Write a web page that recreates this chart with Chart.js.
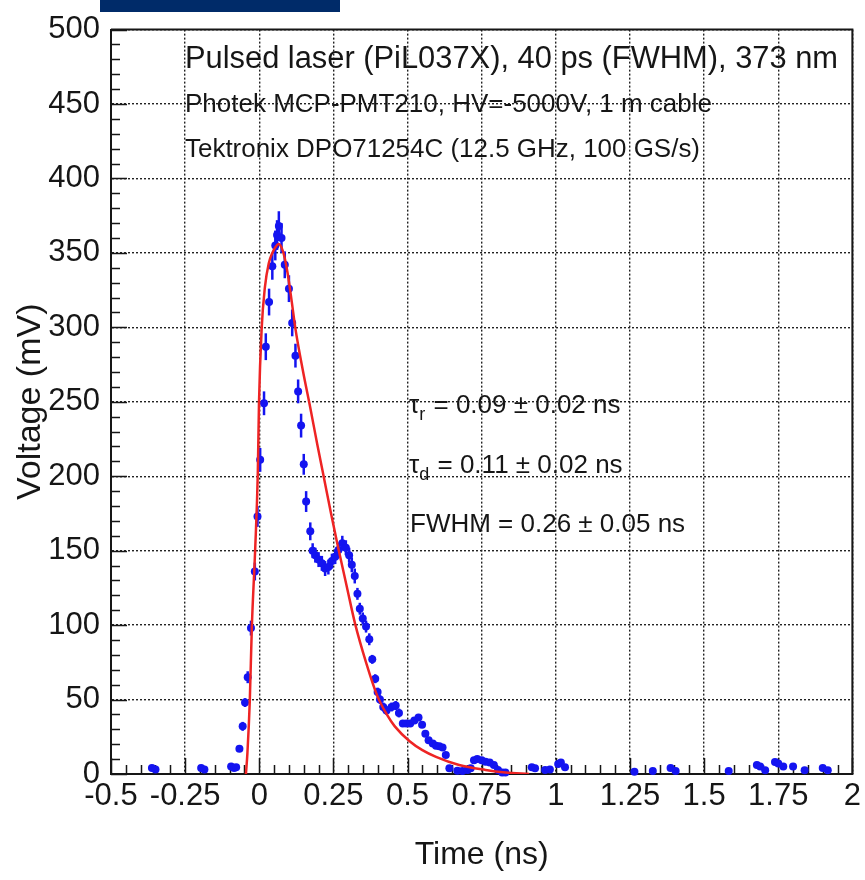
<!DOCTYPE html>
<html>
<head>
<meta charset="utf-8">
<title>MCP-PMT pulse</title>
<script src="https://cdn.jsdelivr.net/npm/chart.js@4.4.1/dist/chart.umd.min.js"></script>
<style>
  html, body { margin: 0; padding: 0; background: #fff; }
  #wrap { position: relative; width: 865px; height: 880px; }
</style>
</head>
<body>
<div id="wrap"><canvas id="pulse"></canvas></div>
<script>
// measured waveform (ns, mV) with per-sample uncertainty
const timeNs = [
  -0.362, -0.350, -0.196, -0.185, -0.095, -0.085, -0.078, -0.067, -0.056, -0.048,
  -0.039, -0.028, -0.015, -0.006, 0.003, 0.016, 0.022, 0.033, 0.044, 0.054,
  0.060, 0.066, 0.075, 0.086, 0.100, 0.111, 0.122, 0.131, 0.141, 0.150,
  0.158, 0.172, 0.180, 0.189, 0.200, 0.211, 0.222, 0.233, 0.245, 0.256,
  0.267, 0.280, 0.292, 0.303, 0.312, 0.322, 0.331, 0.339, 0.349, 0.360,
  0.371, 0.381, 0.391, 0.399, 0.407, 0.418, 0.429, 0.446, 0.460, 0.471,
  0.484, 0.496, 0.509, 0.523, 0.537, 0.549, 0.560, 0.571, 0.585, 0.596,
  0.607, 0.618, 0.629, 0.641, 0.668, 0.685, 0.702, 0.713, 0.724, 0.735,
  0.750, 0.763, 0.777, 0.791, 0.805, 0.819, 0.830, 0.919, 0.930, 0.964,
  0.980, 1.008, 1.017, 1.031, 1.265, 1.327, 1.387, 1.404, 1.583, 1.678,
  1.689, 1.706, 1.739, 1.750, 1.767, 1.800, 1.839, 1.900, 1.917
];
const voltageMv = [
  4, 3, 4, 3, 5, 4, 4.5, 17, 32, 48,
  65, 98, 136, 173, 211, 249, 287, 317, 341, 355,
  362, 368, 360, 342, 326, 303, 281, 257, 234, 208,
  183, 163, 150, 147, 144, 141.5, 138, 139, 143, 146,
  150.5, 155, 152, 147, 140.5, 133, 121, 111, 104.5, 99,
  90.5, 77, 64, 55, 50, 45, 42.7, 45, 46, 41,
  34, 34, 34, 36, 38, 33, 27, 22.7, 20.5, 19,
  18.7, 17.8, 12.7, 3.8, 2.2, 2, 2.7, 3.8, 9.3, 10,
  9.3, 8.2, 7.8, 6, 2.7, 1, 1, 4.5, 3.8, 2.7,
  3, 6.7, 7.7, 4.5, 1.5, 2, 4, 2, 2, 6,
  5, 2.5, 8, 7, 5, 5, 2.5, 4, 2.5
];
const voltageErrMv = [
  2, 2, 2, 2, 2, 2, 2, 2, 3, 3,
  4, 5, 6, 7, 8, 8, 9, 9, 9, 10,
  10, 10, 10, 9, 9, 9, 8, 8, 8, 7,
  7, 6, 5, 5, 5, 5, 5, 5, 5, 5,
  5, 5, 5, 5, 5, 5, 4, 4, 4, 4,
  4, 3, 3, 3, 3, 3, 3, 3, 3, 3,
  2, 2, 2, 2, 2, 2, 2, 2, 2, 2,
  2, 2, 2, 2, 2, 2, 2, 2, 2, 2,
  2, 2, 2, 2, 2, 2, 2, 2, 2, 2,
  2, 2, 2, 2, 2, 2, 2, 2, 2, 2,
  2, 2, 2, 2, 2, 2, 2, 2, 2
];

// fitted pulse shape
const fitTimeNs = [
  -0.045, -0.040, -0.032, -0.025, -0.014, -0.005, -0.001, 0.008, 0.019, 0.032,
  0.044, 0.055, 0.065, 0.080, 0.095, 0.109, 0.122, 0.147, 0.172, 0.196,
  0.220, 0.242, 0.265, 0.295, 0.323, 0.360, 0.397, 0.430, 0.457, 0.507,
  0.550, 0.596, 0.674, 0.763, 0.830, 0.910
];
const fitVoltageMv = [
  0, 14, 49, 99, 150, 202, 249, 299, 327, 343,
  350, 354, 356, 351, 337, 318, 299, 271, 246, 221,
  197, 175, 153, 126, 101, 75, 53, 40, 32, 22,
  16, 11.5, 6, 2.7, 1, 0
];

const timeTicks = [-0.5, -0.25, 0, 0.25, 0.5, 0.75, 1, 1.25, 1.5, 1.75, 2];
const timeTickLabels = ['-0.5', '-0.25', '0', '0.25', '0.5', '0.75', '1', '1.25', '1.5', '1.75', '2'];
const voltageTicks = [0, 50, 100, 150, 200, 250, 300, 350, 400, 450, 500];
const voltageTickLabels = ['0', '50', '100', '150', '200', '250', '300', '350', '400', '450', '500'];

const FONT = '"Liberation Sans", Arial, Helvetica, sans-serif';
const INK = '#161616';
const BLUE = '#1414f0';

// vertical error bars under the markers
const errorBars = {
  id: 'errorBars',
  beforeDatasetDraw(chart, args) {
    if (args.index !== 0) return;
    const { ctx } = chart;
    const y = chart.scales.y;
    ctx.save();
    ctx.strokeStyle = BLUE;
    ctx.lineWidth = 2.5;
    args.meta.data.forEach((pt, i) => {
      const v = voltageMv[i], e = voltageErrMv[i];
      ctx.beginPath();
      ctx.moveTo(pt.x, y.getPixelForValue(v - e));
      ctx.lineTo(pt.x, y.getPixelForValue(v + e));
      ctx.stroke();
    });
    ctx.restore();
  }
};

// closed frame plus inward minor/major tick marks
const frame = {
  id: 'frame',
  beforeDatasetsDraw(chart) {
    const { ctx, chartArea: a } = chart;
    const x = chart.scales.x, y = chart.scales.y;
    ctx.save();
    ctx.strokeStyle = INK;
    ctx.lineWidth = 2;
    ctx.beginPath();
    ctx.moveTo(a.left, a.top);
    ctx.lineTo(a.right, a.top);
    ctx.lineTo(a.right, a.bottom);
    ctx.stroke();

    ctx.lineWidth = 1.5;
    ctx.beginPath();
    for (let i = 0; i <= 50; i++) {
      const len = i % 5 === 0 ? 16 : 9;
      const py = Math.round(y.getPixelForValue(i * 10)) + 0.5;
      ctx.moveTo(a.left, py);
      ctx.lineTo(a.left + len, py);
      const px = Math.round(x.getPixelForValue(-0.5 + i * 0.05)) + 0.5;
      ctx.moveTo(px, a.bottom);
      ctx.lineTo(px, a.bottom - len);
    }
    ctx.stroke();
    ctx.restore();
  }
};

// run conditions and fit results written on the pad
const notes = {
  id: 'notes',
  afterDraw(chart) {
    const { ctx } = chart;
    ctx.save();
    ctx.fillStyle = '#002b69';
    ctx.fillRect(100, 0, 240, 12);

    ctx.fillStyle = INK;
    ctx.textBaseline = 'middle';
    ctx.textAlign = 'left';
    ctx.font = '31px ' + FONT;
    ctx.fillText('Pulsed laser (PiL037X), 40 ps (FWHM), 373 nm', 185, 59, 653);
    ctx.font = '26px ' + FONT;
    ctx.fillText('Photek MCP-PMT210, HV=-5000V, 1 m cable', 185, 105, 527);
    ctx.fillText('Tektronix DPO71254C (12.5 GHz, 100 GS/s)', 185, 150, 515);

    const tau = (sub, rest, y) => {
      ctx.font = '26px ' + FONT;
      ctx.fillText('\u03c4', 409, y);
      const w = ctx.measureText('\u03c4').width;
      ctx.font = '18px ' + FONT;
      ctx.fillText(sub, 409 + w, y + 9);
      const ws = ctx.measureText(sub).width;
      ctx.font = '26px ' + FONT;
      ctx.fillText(rest, 409 + w + ws + 1, y);
    };
    tau('r', ' = 0.09 \u00b1 0.02 ns', 406);
    tau('d', ' = 0.11 \u00b1 0.02 ns', 466);
    ctx.font = '26px ' + FONT;
    ctx.fillText('FWHM = 0.26 \u00b1 0.05 ns', 410, 525);
    ctx.restore();
  }
};

const gridStyle = { color: '#222', lineWidth: 1.4, drawTicks: false, tickLength: 0 };
const borderStyle = { color: INK, width: 2, dash: [2, 2] };

new Chart(document.getElementById('pulse'), {
  type: 'scatter',
  data: {
    datasets: [
      {
        label: 'data',
        data: timeNs.map((t, i) => ({ x: t, y: voltageMv[i] })),
        backgroundColor: BLUE,
        borderWidth: 0,
        pointRadius: 4,
        pointHoverRadius: 4,
        showLine: false,
        clip: false,
        order: 1
      },
      {
        label: 'fit',
        data: fitTimeNs.map((t, i) => ({ x: t, y: fitVoltageMv[i] })),
        borderColor: '#ee2424',
        borderWidth: 2.5,
        pointRadius: 0,
        showLine: true,
        cubicInterpolationMode: 'monotone',
        order: 0
      }
    ]
  },
  options: {
    responsive: true,
    maintainAspectRatio: false,
    devicePixelRatio: 1,
    animation: false,
    layout: { padding: { top: 25, right: 12, left: 0, bottom: 0 } },
    plugins: { legend: { display: false }, tooltip: { enabled: false } },
    scales: {
      x: {
        type: 'linear',
        min: -0.5,
        max: 2,
        afterBuildTicks: s => { s.ticks = timeTicks.map(v => ({ value: v })); },
        afterFit: s => { s.height = 106; },
        ticks: {
          autoSkip: false,
          maxRotation: 0,
          padding: 4,
          color: INK,
          font: { family: FONT, size: 31 },
          callback: (v, i) => timeTickLabels[i]
        },
        grid: gridStyle,
        border: borderStyle,
        title: {
          display: true,
          text: 'Time (ns)',
          color: INK,
          font: { family: FONT, size: 32 },
          padding: { top: 0, bottom: 6 }
        }
      },
      y: {
        type: 'linear',
        min: 0,
        max: 500,
        afterBuildTicks: s => { s.ticks = voltageTicks.map(v => ({ value: v })); },
        afterFit: s => { s.width = 111; },
        ticks: {
          padding: 11,
          color: INK,
          font: { family: FONT, size: 31 },
          callback: (v, i) => voltageTickLabels[i]
        },
        grid: gridStyle,
        border: borderStyle,
        title: {
          display: true,
          text: 'Voltage (mV)',
          color: INK,
          font: { family: FONT, size: 34 },
          padding: { top: 10, bottom: 0 }
        }
      }
    }
  },
  plugins: [errorBars, frame, notes]
});
</script>
</body>
</html>
